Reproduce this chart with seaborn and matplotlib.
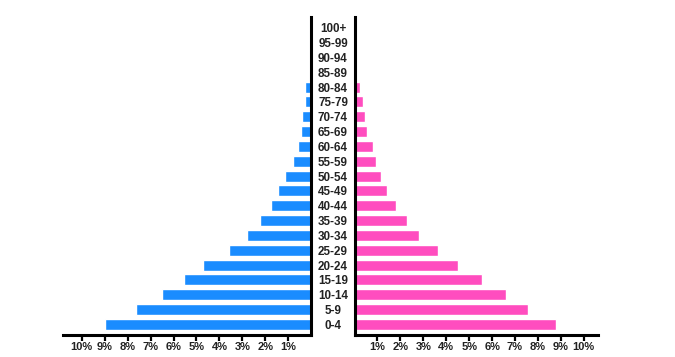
import matplotlib
matplotlib.use("Agg")
import matplotlib.pyplot as plt
import seaborn as sns
import pandas as pd

# ---- data ----
age_groups = ["0-4", "5-9", "10-14", "15-19", "20-24", "25-29", "30-34", "35-39",
              "40-44", "45-49", "50-54", "55-59", "60-64", "65-69", "70-74",
              "75-79", "80-84", "85-89", "90-94", "95-99", "100+"]
male_pct = [8.98, 7.64, 6.52, 5.53, 4.70, 3.57, 2.79, 2.22, 1.74, 1.44, 1.15,
            0.81, 0.58, 0.46, 0.39, 0.26, 0.27, 0.0, 0.0, 0.0, 0.0]
female_pct = [8.78, 7.57, 6.61, 5.55, 4.52, 3.64, 2.83, 2.29, 1.80, 1.42, 1.17,
              0.92, 0.79, 0.55, 0.47, 0.37, 0.25, 0.0, 0.0, 0.0, 0.0]
tick_values = [1, 2, 3, 4, 5, 6, 7, 8, 9, 10]
tick_labels = ["1%", "2%", "3%", "4%", "5%", "6%", "7%", "8%", "9%", "10%"]

male_color = "#1a8cff"
female_color = "#ff4dbf"

sns.set_theme(style="white")
plt.rcParams["font.family"] = ["Liberation Sans", "DejaVu Sans"]

df = pd.DataFrame({"age": age_groups, "male": male_pct, "female": female_pct})
order = age_groups[::-1]

W, H = 675, 357
fig = plt.figure(figsize=(W / 100, H / 100), dpi=100)

def frac(x0, x1, ytop, ybot):
    return [x0 / W, (H - ybot) / H, (x1 - x0) / W, (ybot - ytop) / H]

axL = fig.add_axes(frac(63.3, 311.3, 17.3, 335))
axR = fig.add_axes(frac(354.5, 598, 17.3, 335))

sns.barplot(data=df, x="male", y="age", order=order, orient="h", color=male_color,
            saturation=1, width=0.74, ax=axL)
sns.barplot(data=df, x="female", y="age", order=order, orient="h", color=female_color,
            saturation=1, width=0.74, ax=axR)

fs = 8.4
xfs = 8.0
axL.set_xlim(10.80, 0)
axR.set_xlim(0, 10.62)
for ax in (axL, axR):
    ax.set_ylim(len(order) - 1 + 0.71, -0.70)
    ax.set_xlabel("")
    ax.set_ylabel("")
    ax.set_xticks(tick_values)
    ax.set_xticklabels(tick_labels, fontsize=xfs, fontweight="bold", color="#222222")
    ax.tick_params(axis="x", direction="out", length=4.2, width=1.6, color="black",
                   pad=1.0, bottom=True)
    ax.spines["top"].set_visible(False)
    ax.spines["bottom"].set_linewidth(2.2)
    ax.spines["bottom"].set_color("black")
    ax.set_facecolor("none")

# left panel: spine on the right
axL.spines["left"].set_visible(False)
axL.spines["right"].set_linewidth(2.2)
axL.spines["right"].set_color("black")
axL.set_yticks([])

# right panel: spine on the left, age labels centered in the gap
axR.spines["right"].set_visible(False)
axR.spines["left"].set_linewidth(2.2)
axR.spines["left"].set_color("black")
axR.set_yticks(range(len(order)))
axR.set_yticklabels(order, fontsize=fs, fontweight="bold", color="#222222")
axR.tick_params(axis="y", length=0, pad=15.5, left=False)
for lab in axR.get_yticklabels():
    lab.set_horizontalalignment("center")

fig.savefig("out.png", dpi=100, facecolor="white")
